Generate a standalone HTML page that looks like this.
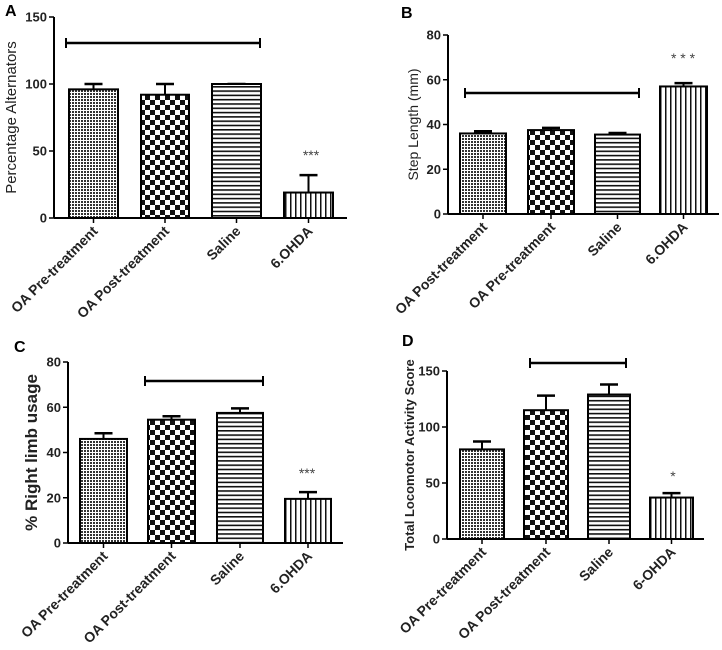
<!DOCTYPE html>
<html><head><meta charset="utf-8"><style>
body{margin:0;background:#fff}
svg{display:block;font-family:"Liberation Sans",Arial,sans-serif}
</style></head><body>
<svg id="fig" width="722" height="650" viewBox="0 0 722 650">
<defs>
<pattern id="pDot" width="3" height="3" patternUnits="userSpaceOnUse"><rect width="3" height="3" fill="#fff"/><rect width="2" height="2" fill="#333"/></pattern>
<pattern id="pChk" width="10" height="10" patternUnits="userSpaceOnUse"><rect width="10" height="10" fill="#fff"/><rect width="5" height="5" fill="#111"/><rect x="5" y="5" width="5" height="5" fill="#111"/></pattern>
<pattern id="pH" width="4.3" height="4.3" patternUnits="userSpaceOnUse"><rect width="4.3" height="4.3" fill="#fff"/><rect width="4.3" height="1.6" fill="#111"/></pattern>
<pattern id="pV" width="5" height="5" patternUnits="userSpaceOnUse"><rect width="5" height="5" fill="#fff"/><rect width="1.5" height="5" fill="#111"/></pattern>
</defs>
</svg>
<script>
// Panel A
const catsA = ["OA Pre-treatment","OA Post-treatment","Saline","6.OHDA"];
const valsA = [96, 92, 100, 19];
const errA = [100, 100, 100, 32];
const ticksA = [0, 50, 100, 150];
// Panel B
const catsB = ["OA Post-treatment","OA Pre-treatment","Saline","6.OHDA"];
const valsB = [36, 37.5, 35.5, 57];
const errB = [37, 38.5, 36.2, 58.5];
const ticksB = [0, 20, 40, 60, 80];
// Panel C
const catsC = ["OA Pre-treatment","OA Post-treatment","Saline","6.OHDA"];
const valsC = [46, 54.5, 57.5, 19.5];
const errC = [48.5, 56, 59.5, 22.5];
const ticksC = [0, 20, 40, 60, 80];
// Panel D
const catsD = ["OA Pre-treatment","OA Post-treatment","Saline","6-OHDA"];
const valsD = [80, 115, 129, 37];
const errD = [87, 128, 138, 41];
const ticksD = [0, 50, 100, 150];

const NS="http://www.w3.org/2000/svg";
const svg=document.getElementById('fig');
function mk(tag,attrs,parent){const e=document.createElementNS(NS,tag);for(const k in attrs)e.setAttribute(k,attrs[k]);(parent||svg).appendChild(e);return e;}
const fills=["url(#pDot)","url(#pChk)","url(#pH)","url(#pV)"];

function panel(cfg,cats,vals,errs,ticks){
  const g=mk('g',{});
  
  
  const max=ticks[ticks.length-1];
  const y=v=>cfg.y0-(v/max)*(cfg.y0-cfg.yTop);
  const lt=mk('text',{x:cfg.letterX,y:cfg.letterY,'font-size':16,'font-weight':'bold'},g);lt.textContent=cfg.id;
  
  
  const ya=mk('line',{x1:cfg.ax,y1:cfg.yTop,x2:cfg.ax,y2:cfg.y0,stroke:'#000','stroke-width':2},g);
  
  
  const xa=mk('line',{x1:cfg.ax,y1:cfg.y0,x2:cfg.axEnd,y2:cfg.y0,stroke:'#000','stroke-width':2},g);
  
  
  ticks.forEach(t=>{
    mk('line',{x1:cfg.ax-5,y1:y(t),x2:cfg.ax,y2:y(t),stroke:'#000','stroke-width':1.5},g);
    const tx=mk('text',{x:cfg.ax-7,y:y(t)+4.5,'font-size':13,'font-weight':'bold','text-anchor':'end',fill:'#222'},g);
    tx.textContent=t;
    
    
  });
  const yt=mk('text',{transform:`translate(${cfg.titleX},${(cfg.yTop+cfg.y0)/2}) rotate(-90)`,'text-anchor':'middle','font-size':cfg.titleSize,'font-weight':cfg.titleWeight,fill:'#222'},g);
  yt.textContent=cfg.title;
  
  
  cats.forEach((c,i)=>{
    const [l,r]=cfg.bars[i];const cx=(l+r)/2;
    const et=y(errs[i]);
    mk('line',{x1:cx,y1:et,x2:cx,y2:y(vals[i]),stroke:'#000','stroke-width':2},g);
    mk('line',{x1:cx-9,y1:et,x2:cx+9,y2:et,stroke:'#000','stroke-width':2.5},g);
    const b=mk('rect',{x:l,y:y(vals[i]),width:r-l,height:cfg.y0-y(vals[i]),fill:fills[i],stroke:'#000','stroke-width':2},g);
    
    
    mk('line',{x1:cx,y1:cfg.y0,x2:cx,y2:cfg.y0+5,stroke:'#000','stroke-width':1.5},g);
    const lb=mk('text',{transform:`translate(${cx+5},${cfg.y0+14}) rotate(-45)`,'text-anchor':'end','font-size':14,'font-weight':'bold',fill:'#222'},g);
    lb.textContent=c;
    
    
  });
  const br=mk('g',{},g);
  
  
  mk('line',{x1:cfg.br[0],y1:cfg.brY,x2:cfg.br[1],y2:cfg.brY,stroke:'#000','stroke-width':2.5},br);
  mk('line',{x1:cfg.br[0],y1:cfg.brY-5,x2:cfg.br[0],y2:cfg.brY+5,stroke:'#000','stroke-width':2},br);
  mk('line',{x1:cfg.br[1],y1:cfg.brY-5,x2:cfg.br[1],y2:cfg.brY+5,stroke:'#000','stroke-width':2},br);
  const st=mk('text',{x:cfg.star[0],y:cfg.star[1],'text-anchor':'middle','font-size':14,fill:'#444'},g);
  st.textContent=cfg.star[2];
  
  
}
panel({id:'A',letterX:5,letterY:16,ax:54,axEnd:347,y0:218,yTop:17,title:'Percentage Alternators',titleX:16,titleSize:15,titleWeight:'normal',
  bars:[[69,118],[141,189],[212,261],[284,333]],br:[66,260],brY:43,star:[311,160,'***']},catsA,valsA,errA,ticksA);
panel({id:'B',letterX:401,letterY:18,ax:448,axEnd:719,y0:214,yTop:35,title:'Step Length (mm)',titleX:418,titleSize:14,titleWeight:'normal',
  bars:[[460,506],[528,574],[595,640],[660,707]],br:[465,639],brY:93,star:[683,63,'* * *']},catsB,valsB,errB,ticksB);
panel({id:'C',letterX:14,letterY:352,ax:68,axEnd:343,y0:543,yTop:362,title:'% Right limb usage',titleX:37,titleSize:17,titleWeight:'bold',
  bars:[[80,127],[148,195],[217,263],[285,331]],br:[145,263],brY:381,star:[307,478,'***']},catsC,valsC,errC,ticksC);
panel({id:'D',letterX:402,letterY:346,ax:447,axEnd:704,y0:539,yTop:371,title:'Total Locomotor Activity Score',titleX:414,titleSize:13,titleWeight:'bold',
  bars:[[460,504],[524,568],[588,630],[650,693]],br:[530,626],brY:363,star:[673,481,'*']},catsD,valsD,errD,ticksD);
</script>
</body></html>
